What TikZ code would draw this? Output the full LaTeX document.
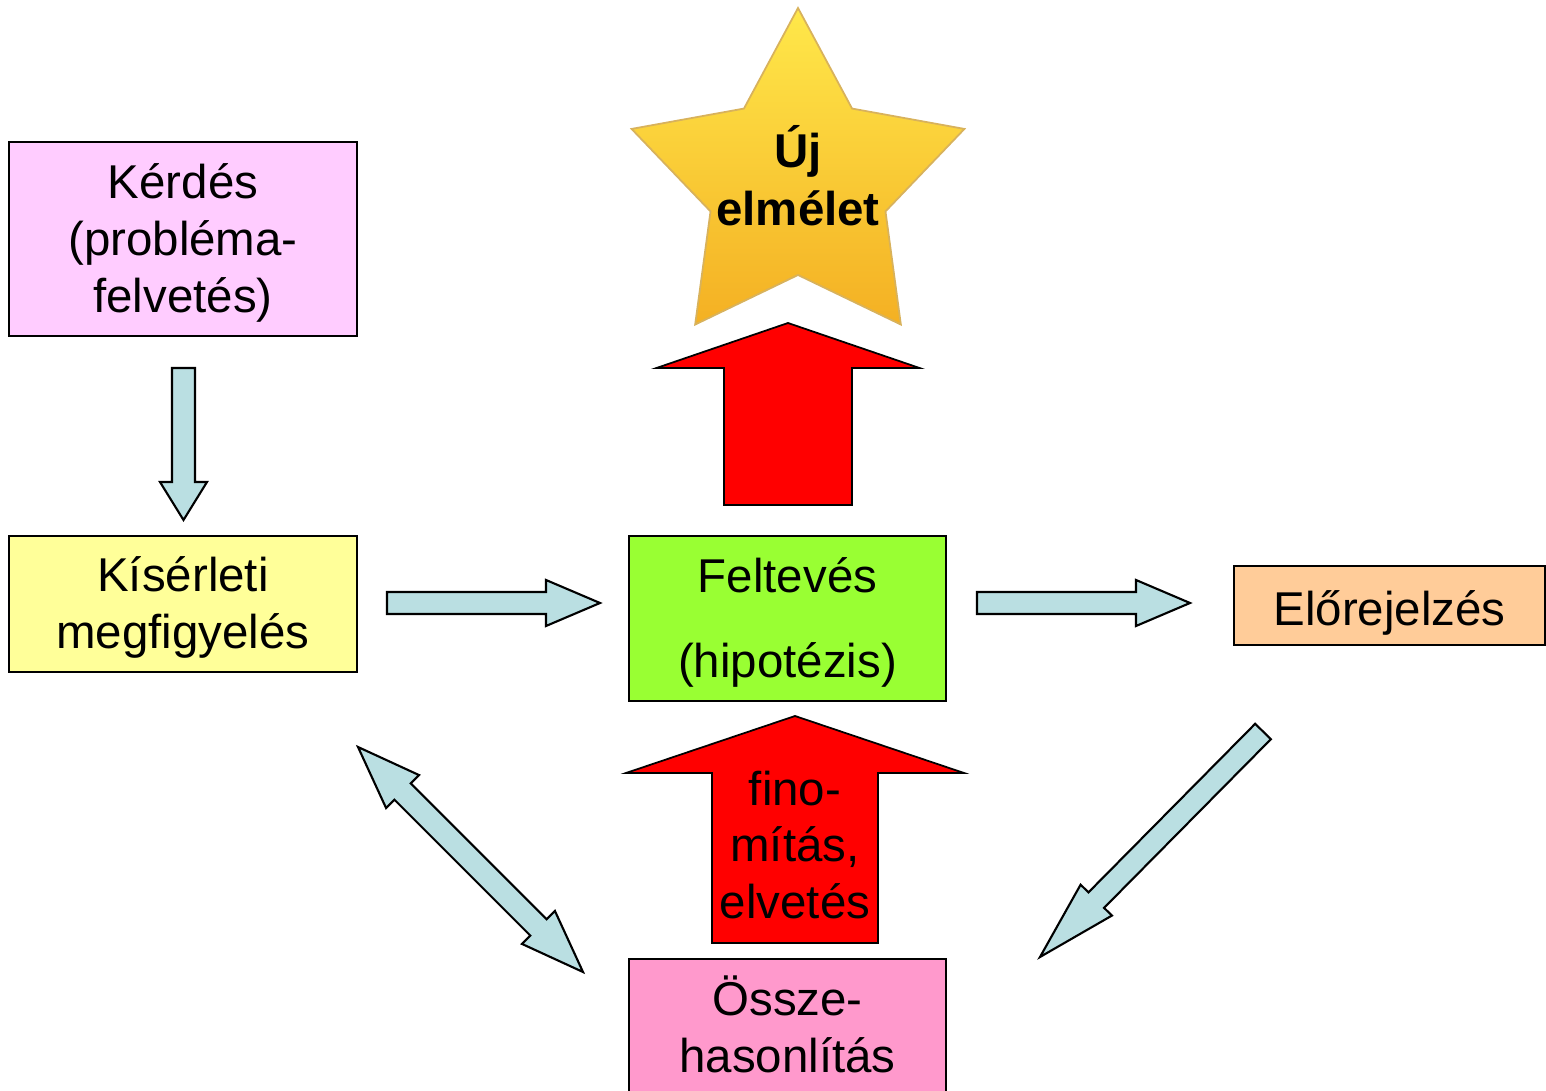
\documentclass[tikz,border=0pt]{standalone}
\usepackage{fontspec}
\setmainfont{Liberation Sans}
\usetikzlibrary{calc}
\definecolor{kerdesfill}{HTML}{FFCCFF}
\definecolor{kiserfill}{HTML}{FFFF99}
\definecolor{feltfill}{HTML}{99FF33}
\definecolor{elorefill}{HTML}{FFCC99}
\definecolor{osszefill}{HTML}{FF99CC}
\definecolor{arrowblue}{HTML}{BADFE2}
\definecolor{startop}{HTML}{FFE84A}
\definecolor{starbottom}{HTML}{F4B023}
\definecolor{starline}{HTML}{D8B25C}
\def\ls{\rule[-0.212em]{0pt}{1.117em}}
% block arrow: [style](tail)(tip)(shaft half width:head half width:head length)
\def\blockarrow[#1](#2)(#3)(#4:#5:#6){\draw[#1] ($(#2)!#4!90:(#3)$) -- ($(#3)!#6!(#2)!#4!-90:(#2)$) -- ($(#3)!#6!(#2)!#5!-90:(#2)$) -- (#3) -- ($(#3)!#6!(#2)!#5!90:(#2)$) -- ($(#3)!#6!(#2)!#4!90:(#2)$) -- ($(#2)!#4!-90:(#3)$) -- cycle;}
\def\dblarrow[#1](#2)(#3)(#4:#5:#6){\draw[#1] (#2) -- ($(#2)!#6!(#3)!#5!90:(#3)$) -- ($(#2)!#6!(#3)!#4!90:(#3)$) -- ($(#3)!#6!(#2)!#4!-90:(#2)$) -- ($(#3)!#6!(#2)!#5!-90:(#2)$) -- (#3) -- ($(#3)!#6!(#2)!#5!90:(#2)$) -- ($(#3)!#6!(#2)!#4!90:(#2)$) -- ($(#2)!#6!(#3)!#4!-90:(#3)$) -- ($(#2)!#6!(#3)!#5!-90:(#3)$) -- cycle;}

\begin{document}
\begin{tikzpicture}[x=0.1mm, y=-0.1mm, line join=miter,
	box/.style={draw, line width=0.6pt, inner sep=0pt, outer sep=0pt, align=center, font=\fontsize{13.5}{16.2}\selectfont},
	bluearrow/.style={fill=arrowblue, draw=black, line width=0.6pt},
	redarrow/.style={fill=red, draw=black, line width=0.5pt}]
				%%%%% START %%%%%
				\clip (0,0) rectangle (1546,1091);
				
				\node[box, fill=kerdesfill, minimum width=34.8mm, minimum height=19.4mm] (kerdes) at (183,239) {\ls Kérdés\\(probléma-\\felvetés)\ls};
				\node[box, fill=kiserfill, minimum width=34.8mm, minimum height=13.6mm] (kiser) at (183,604) {\ls Kísérleti\\megfigyelés\ls};
				\node[box, fill=feltfill, minimum width=31.7mm, minimum height=16.5mm] (felt) at (787.5,618.5) {\ls Feltevés\\[2.8mm](hipotézis)\ls};
				\node[box, fill=elorefill, minimum width=31.1mm, minimum height=7.9mm] (elore) at (1389.5,605.5) {\rule[-0.212em]{0pt}{1.262em}Előrejelzés};
				\node[box, fill=osszefill, minimum width=31.7mm, minimum height=13.8mm] (ossze) at (787.5,1028) {\ls Össze-\\hasonlítás\ls};
				
				\coordinate (csillag) at (798,183);
				\draw[top color=startop, bottom color=starbottom, draw=starline, line width=0.5pt, shift={(csillag)}] (-90:175) \foreach \i in {1,...,9} { -- ({-90+36*\i}:{mod(\i,2)==1 ? 92 : 175}) } -- cycle;
				\node[align=center, font=\fontsize{13.5}{16.4}\selectfont\bfseries] (uj) at (798,176) {Új\\elmélet};
				
				\coordinate (r1a) at ($(felt.north)+(0.5,-31)$);
				\coordinate (r1b) at ($(r1a |- csillag)+(0,140)$);
				\blockarrow[redarrow](r1a)(r1b)(6.4mm:13.15mm:4.5mm)
				
				\coordinate (r2a) at ($(ossze.north)+(7.5,-16)$);
				\coordinate (r2b) at ($(felt.south)+(7.5,15)$);
				\blockarrow[redarrow](r2a)(r2b)(8.3mm:16.9mm:5.7mm)
				\node[align=center, font=\fontsize{13.5}{16.2}\selectfont, inner sep=0pt] (finom) at ($(r2a)+(0,-98)$) {fino-\\mítás,\\elvetés};
				
				\coordinate (b1a) at ($(kerdes.south)+(0.5,32)$);
				\coordinate (b1b) at ($(b1a |- kiser.north)+(0,-16)$);
				\blockarrow[bluearrow](b1a)(b1b)(1.15mm:2.35mm:3.8mm)
				
				\coordinate (b2a) at ($(kiser.east)+(30,-1)$);
				\coordinate (b2b) at ($(felt.west |- b2a)+(-29,0)$);
				\blockarrow[bluearrow](b2a)(b2b)(1.1mm:2.3mm:5.4mm)
				
				\coordinate (b3a) at ($(felt.east |- b2a)+(31,0)$);
				\coordinate (b3b) at ($(elore.west |- b2a)+(-44,0)$);
				\blockarrow[bluearrow](b3a)(b3b)(1.1mm:2.3mm:5.4mm)
				
				\coordinate (b4a) at ($(elore.south west)+(29,86.5)$);
				\coordinate (b4b) at ($(ossze.north east)+(94,-2)$);
				\blockarrow[bluearrow](b4a)(b4b)(1.1mm:2.2mm:8mm)
				
				\coordinate (b5a) at ($(kiser.south east)+(1,75)$);
				\coordinate (b5b) at ($(ossze.north west)+(-46,13)$);
				\dblarrow[bluearrow](b5a)(b5b)(1.15mm:2.33mm:6.3mm)
				%%%%% END %%%%%
\end{tikzpicture}
\end{document}
